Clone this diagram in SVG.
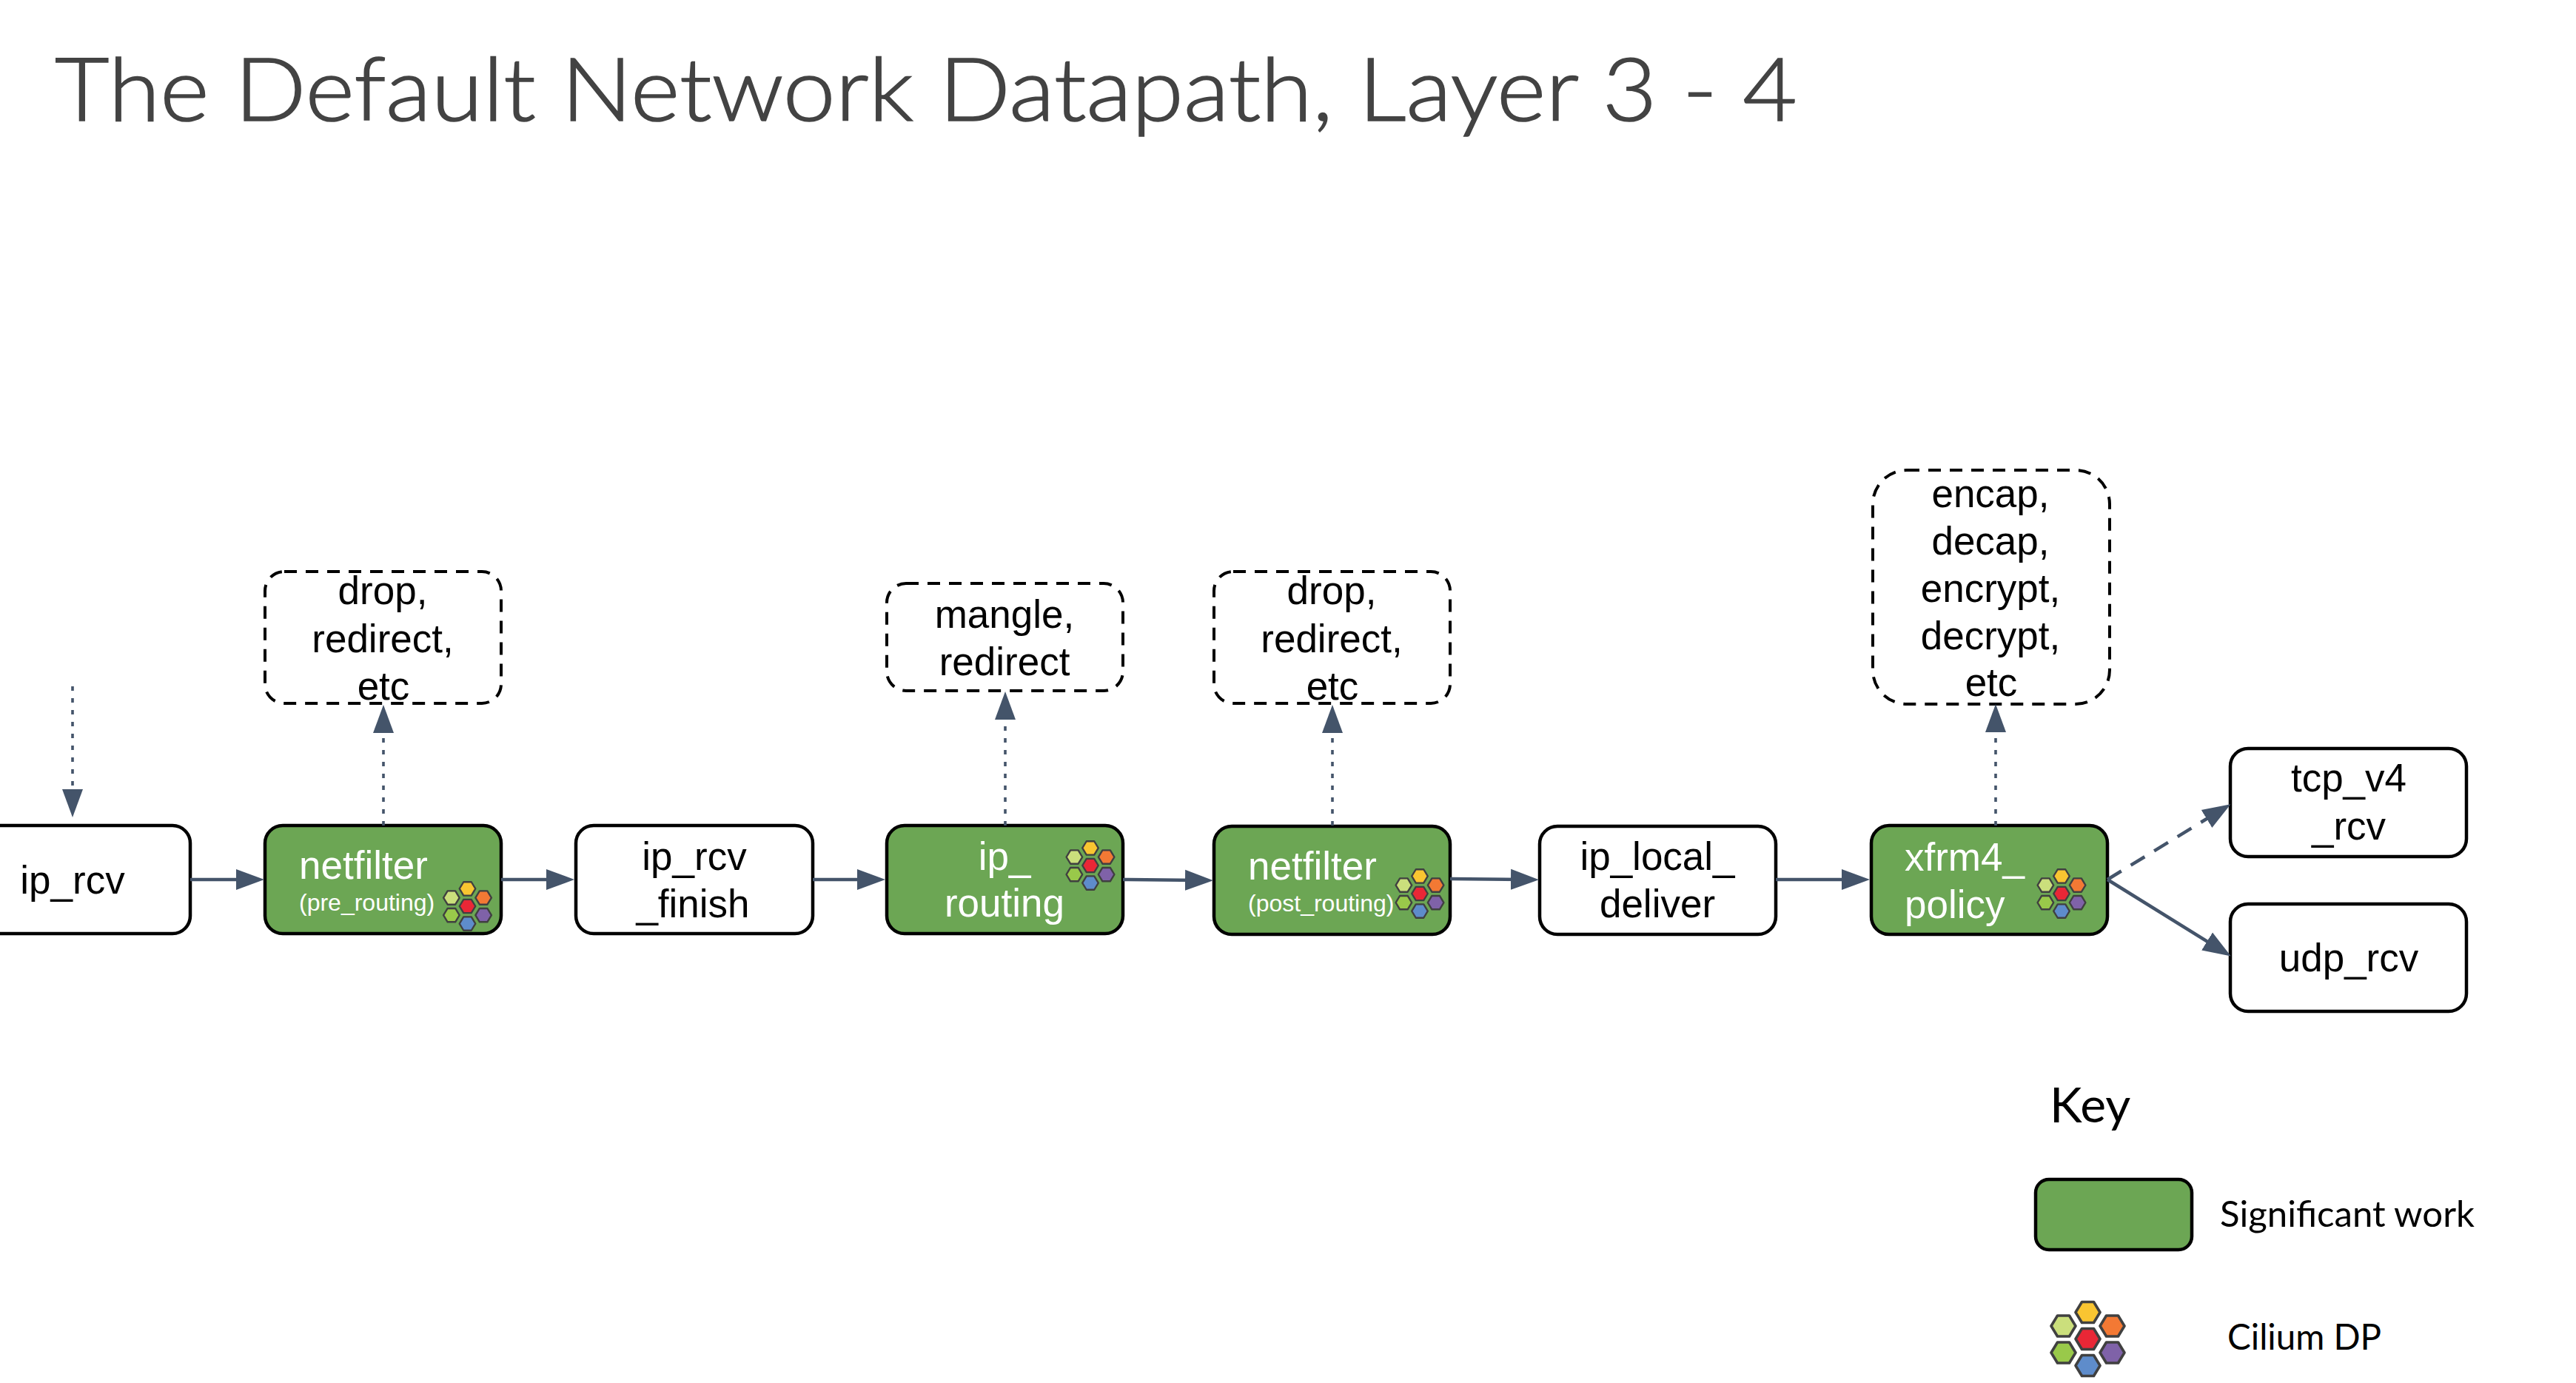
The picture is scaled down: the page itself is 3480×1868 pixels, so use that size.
<svg xmlns="http://www.w3.org/2000/svg" xmlns:xlink="http://www.w3.org/1999/xlink" width="3480" height="1868" viewBox="0 0 3480 1868">
<style>
text{font-family:"Liberation Sans",Arial,sans-serif;font-size:53px;fill:#000}
.m{text-anchor:middle}
.w{fill:#fff}
.sub{font-size:32px;fill:#fff}
.box{fill:#fff;stroke:#000;stroke-width:4.5}
.work{fill:#6ca654;stroke:#000;stroke-width:4.5}
.act{fill:#fff;stroke:#000;stroke-width:4;stroke-dasharray:17 12}
.c{fill:none;stroke:#44546a;stroke-width:4.5;marker-end:url(#a)}
.dot{stroke-dasharray:6 10;stroke-width:3.6}
.dash{stroke-dasharray:22 15}
.lg{font-family:Lato,"Noto Sans",sans-serif}
.hx{stroke:#404040;stroke-width:3.6;stroke-linejoin:round}
</style>
<defs>
<marker id="a" markerUnits="userSpaceOnUse" markerWidth="40" markerHeight="30" refX="18" refY="15" orient="auto"><path d="M0 1L38 15L0 29Z" fill="#44546a"/></marker>
<polygon id="h" points="-16.5,0 -8,-14 8,-14 16.5,0 8,14 -8,14"/>
<g id="cilium">
<use xlink:href="#h" href="#h" class="hx" x="0" y="-36" fill="#f9c531"/>
<use xlink:href="#h" href="#h" class="hx" x="-33" y="-17.5" fill="#cbdf7c"/>
<use xlink:href="#h" href="#h" class="hx" x="33" y="-17.5" fill="#f37934"/>
<use xlink:href="#h" href="#h" class="hx" x="0" y="0" fill="#e92736"/>
<use xlink:href="#h" href="#h" class="hx" x="-33" y="18.5" fill="#99c94a"/>
<use xlink:href="#h" href="#h" class="hx" x="33" y="18.5" fill="#7f62a8"/>
<use xlink:href="#h" href="#h" class="hx" x="0" y="36" fill="#5e8ccb"/>
</g>
</defs>
<rect width="3480" height="1868" fill="#fff"/>
<text id="title" class="lg" x="74" y="163" style="font-size:118px;font-weight:300;fill:#434343;stroke:#434343;stroke-width:1.6" textLength="2354" lengthAdjust="spacingAndGlyphs">The Default Network Datapath, Layer 3 - 4</text>

<g id="n-ip_rcv"><rect class="box" x="-61" y="1115" width="318" height="146" rx="24"/><text class="m" x="98" y="1207">ip_rcv</text></g>
<g id="n-netfilter-pre"><rect class="work" x="358" y="1115" width="319" height="146" rx="24"/><text class="w" x="404" y="1187">netfilter</text><text class="sub" x="404" y="1230">(pre_routing)</text><use xlink:href="#cilium" href="#cilium" transform="translate(631.5 1224) scale(.655)"/></g>
<g id="n-ip_rcv_finish"><rect class="box" x="778" y="1115" width="320" height="146" rx="24"/><text class="m" x="938" y="1175">ip_rcv</text><text class="m" x="936" y="1239">_finish</text></g>
<g id="n-ip_routing"><rect class="work" x="1198" y="1115" width="319" height="146" rx="24"/><text class="m w" x="1357" y="1175">ip_</text><text class="m w" x="1357" y="1238">routing</text><use xlink:href="#cilium" href="#cilium" transform="translate(1473 1169) scale(.655)"/></g>
<g id="n-netfilter-post"><rect class="work" x="1640" y="1116" width="319" height="146" rx="24"/><text class="w" x="1686" y="1188">netfilter</text><text class="sub" x="1686" y="1231">(post_routing)</text><use xlink:href="#cilium" href="#cilium" transform="translate(1918 1207) scale(.655)"/></g>
<g id="n-ip_local_deliver"><rect class="box" x="2080" y="1116" width="319" height="146" rx="24"/><text class="m" x="2239" y="1175">ip_local_</text><text class="m" x="2239" y="1239">deliver</text></g>
<g id="n-xfrm4_policy"><rect class="work" x="2528" y="1115" width="319" height="147" rx="24"/><text class="w" x="2573" y="1176">xfrm4_</text><text class="w" x="2573" y="1240">policy</text><use xlink:href="#cilium" href="#cilium" transform="translate(2785 1207) scale(.655)"/></g>
<g id="n-tcp_v4_rcv"><rect class="box" x="3013" y="1011" width="319" height="146" rx="24"/><text class="m" x="3173" y="1069">tcp_v4</text><text class="m" x="3173" y="1134">_rcv</text></g>
<g id="n-udp_rcv"><rect class="box" x="3013" y="1221" width="319" height="145" rx="24"/><text class="m" x="3173" y="1312">udp_rcv</text></g>

<g id="n-act-pre"><rect class="act" x="358" y="772" width="319" height="178" rx="26"/><text class="m" x="517" y="816">drop,</text><text class="m" x="517" y="881">redirect,</text><text class="m" x="518" y="945">etc</text></g>
<g id="n-act-routing"><rect class="act" x="1198" y="788" width="319" height="145" rx="26"/><text class="m" x="1357" y="848">mangle,</text><text class="m" x="1357" y="912">redirect</text></g>
<g id="n-act-post"><rect class="act" x="1640" y="772" width="319" height="178" rx="26"/><text class="m" x="1799" y="816">drop,</text><text class="m" x="1799" y="881">redirect,</text><text class="m" x="1800" y="945">etc</text></g>
<g id="n-act-xfrm"><rect class="act" x="2530" y="635" width="320" height="316" rx="46"/><text class="m" x="2689" y="685">encap,</text><text class="m" x="2689" y="749">decap,</text><text class="m" x="2689" y="813">encrypt,</text><text class="m" x="2689" y="877">decrypt,</text><text class="m" x="2690" y="940">etc</text></g>

<g id="connectors">
<path class="c" d="M257 1188H337"/>
<path class="c" d="M677 1188H756"/>
<path class="c" d="M1098 1188H1176"/>
<path class="c" d="M1517 1188L1619 1189"/>
<path class="c" d="M1959 1187L2059 1188"/>
<path class="c" d="M2399 1188H2506"/>
<path class="c dot" d="M98 927V1084"/>
<path class="c dot" d="M518 1115V972"/>
<path class="c dot" d="M1358 1115V954"/>
<path class="c dot" d="M1800 1115V972"/>
<path class="c dot" d="M2696 1115V971"/>
<path class="c dash" d="M2847 1188L2996.4 1096.6"/>
<path class="c" d="M2847 1188L2996.9 1281"/>
</g>

<g id="key">
<text class="lg" x="2769" y="1516" style="font-size:66px">Key</text>
<g id="key-work"><rect class="work" x="2750" y="1593" width="211" height="95" rx="18"/><text class="lg" x="2999" y="1657" style="font-size:48px" textLength="344" lengthAdjust="spacingAndGlyphs">Significant work</text></g>
<g id="key-cilium"><use xlink:href="#cilium" href="#cilium" transform="translate(2820.5 1808.5)"/><text class="lg" x="3009" y="1823" style="font-size:47.5px">Cilium DP</text></g>
</g>
</svg>
